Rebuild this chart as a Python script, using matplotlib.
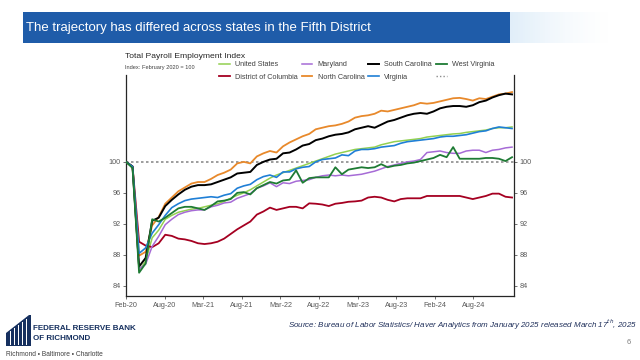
import matplotlib
matplotlib.use("Agg")
import matplotlib.pyplot as plt
from matplotlib.lines import Line2D
from matplotlib.patches import Rectangle, Polygon
import numpy as np

plt.rcParams['font.family'] = ['Liberation Sans', 'DejaVu Sans']

# monthly index, Feb 2020 .. Jan 2025 (Feb 2020 = 100)
united_states = [100, 99.3, 86.0, 87.2, 90.2, 91.2, 92.6, 93.1, 93.5, 93.7,
                 93.9, 94.0, 94.2, 94.4, 94.6, 94.9, 95.3, 95.7, 96.0, 96.4,
                 96.9, 97.4, 97.9, 98.3, 98.6, 98.9, 99.2, 99.5, 99.8, 100.1,
                 100.4, 100.7, 101.0, 101.2, 101.4, 101.6, 101.7, 101.8, 101.9, 102.2,
                 102.4, 102.6, 102.7, 102.8, 102.9, 103.0, 103.2, 103.3, 103.4, 103.5,
                 103.6, 103.65, 103.8, 103.9, 104.0, 104.1, 104.3, 104.4, 104.4, 104.5]
maryland = [100, 99.3, 86.2, 86.8, 89.1, 90.4, 91.9, 92.6, 93.2, 93.5,
            93.7, 93.8, 93.8, 94.2, 94.4, 94.7, 94.8, 95.3, 95.6, 95.9,
            96.6, 96.9, 97.3, 96.8, 97.3, 97.2, 97.5, 97.6, 97.7, 98.0,
            98.2, 98.3, 98.2, 98.3, 98.2, 98.3, 98.4, 98.6, 98.8, 99.1,
            99.4, 99.6, 99.8, 100.0, 100.1, 100.3, 101.2, 101.3, 101.4, 101.2,
            101.1, 101.1, 101.4, 101.5, 101.5, 101.2, 101.5, 101.6, 101.8, 101.9]
south_carolina = [100, 99.4, 86.5, 87.6, 92.4, 92.8, 94.3, 95.1, 95.8, 96.4,
                  96.8, 97.0, 97.0, 97.1, 97.4, 97.7, 98.0, 98.5, 98.6, 98.7,
                  99.6, 100.0, 100.3, 100.4, 101.1, 101.2, 101.6, 102.1, 102.3, 102.8,
                  103.0, 103.3, 103.5, 103.6, 103.8, 104.2, 104.4, 104.6, 104.4, 104.8,
                  105.2, 105.4, 105.7, 106.0, 106.2, 106.3, 106.2, 106.5, 106.9, 107.1,
                  107.2, 107.2, 107.1, 107.3, 107.7, 107.9, 108.3, 108.6, 108.8, 108.7]
west_virginia = [100, 99.2, 85.7, 86.9, 92.6, 92.3, 92.8, 93.4, 94.0, 94.2,
                 94.2, 94.0, 93.8, 94.3, 94.9, 95.0, 95.2, 96.0, 96.1, 95.8,
                 96.6, 97.0, 97.4, 97.2, 97.6, 97.7, 98.9, 97.3, 97.9, 98.0,
                 98.0, 98.0, 99.3, 98.4, 99.0, 99.15, 99.3, 99.2, 99.3, 99.7,
                 99.3, 99.5, 99.6, 99.8, 99.9, 100.1, 100.3, 100.5, 100.9, 100.6,
                 101.9, 100.4, 100.4, 100.4, 100.4, 100.5, 100.5, 100.4, 100.1, 100.6]
district_of_columbia = [100, 99.4, 89.7, 89.2, 89.0, 89.5, 90.6, 90.45, 90.1, 90.0,
                        89.8, 89.5, 89.4, 89.5, 89.7, 90.1, 90.7, 91.3, 91.8, 92.3,
                        93.2, 93.6, 94.1, 93.8, 94.0, 94.2, 94.2, 94.0, 94.65, 94.6,
                        94.5, 94.3, 94.6, 94.7, 94.85, 94.9, 95.0, 95.4, 95.5, 95.4,
                        95.1, 94.9, 95.2, 95.3, 95.3, 95.3, 95.6, 95.6, 95.6, 95.6,
                        95.6, 95.6, 95.4, 95.2, 95.4, 95.6, 95.9, 95.9, 95.5, 95.4]
north_carolina = [100, 99.4, 87.9, 88.4, 91.8, 92.9, 94.6, 95.4, 96.2, 96.7,
                  97.2, 97.4, 97.4, 97.8, 98.3, 98.6, 99.0, 99.8, 100.0, 99.8,
                  100.7, 101.1, 101.4, 101.2, 102.0, 102.5, 102.9, 103.3, 103.6, 104.2,
                  104.4, 104.6, 104.7, 104.9, 105.2, 105.7, 105.9, 106.0, 106.2, 106.6,
                  106.5, 106.7, 106.9, 107.1, 107.3, 107.6, 107.5, 107.6, 107.8, 108.0,
                  108.2, 108.25, 108.1, 107.9, 108.2, 108.1, 108.4, 108.7, 108.8, 109.0]
virginia = [100, 99.4, 88.2, 88.9, 90.8, 91.9, 93.1, 94.1, 94.6, 95.0,
            95.2, 95.3, 95.4, 95.5, 95.4, 95.7, 95.9, 96.6, 96.9, 97.1,
            97.7, 98.1, 98.3, 98.0, 98.7, 98.7, 99.1, 99.3, 99.4, 100.0,
            100.3, 100.4, 100.5, 100.9, 100.8, 101.4, 101.6, 101.6, 101.7, 101.9,
            102.0, 102.1, 102.4, 102.6, 102.7, 102.8, 102.9, 103.0, 103.2, 103.3,
            103.3, 103.4, 103.5, 103.7, 103.9, 104.0, 104.3, 104.5, 104.4, 104.3]

tick_labels = ['Feb-20', 'Aug-20', 'Mar-21', 'Aug-21', 'Mar-22', 'Aug-22',
               'Mar-23', 'Aug-23', 'Feb-24', 'Aug-24']
y_ticks = [84, 88, 92, 96, 100]

series = [
    ('United States', united_states, '#92D050', 1.1),
    ('District of Columbia', district_of_columbia, '#A50021', 1.3),
    ('Maryland', maryland, '#A66BD6', 1.1),
    ('North Carolina', north_carolina, '#E8892B', 1.3),
    ('South Carolina', south_carolina, '#000000', 1.4),
    ('Virginia', virginia, '#1F7FD6', 1.2),
    ('West Virginia', west_virginia, '#1E7B34', 1.3),
]

W, H = 640, 360
fig = plt.figure(figsize=(6.4, 3.6), dpi=100)
fig.patch.set_facecolor('white')

def fx(px):
    return px / W

def fy(py):
    return 1 - py / H

# title banner
fig.patches.append(Rectangle((fx(23), fy(43)), fx(510) - fx(23), fy(12) - fy(43),
                             transform=fig.transFigure, facecolor='#1F5CA9',
                             edgecolor='none', zorder=1))
for k in range(40):
    x0 = 510 + k * 2.5
    a = 0.3 * (1 - k / 40.0) ** 1.5
    fig.patches.append(Rectangle((fx(x0), fy(43)), fx(2.6), fy(12) - fy(43),
                                 transform=fig.transFigure, facecolor='#9CC8EC',
                                 alpha=a, edgecolor='none', zorder=1))
fig.text(fx(26), fy(28), 'The trajectory has differed across states in the Fifth District',
         color='white', fontsize=9.5, va='center', ha='left', zorder=2)

# chart
ax = fig.add_axes([fx(126), fy(296), fx(514) - fx(126), fy(75) - fy(296)])
x = np.arange(len(united_states))
for name, vals, col, lw in series:
    ax.plot(x, vals, color=col, lw=lw, label=name, zorder=3)
ax.axhline(100, color='#8C8C8C', lw=1.2, ls=(0, (1.5, 1.5)), zorder=2)

ax.set_xlim(0, 59.3)
ax.set_ylim(82.7, 111.2)
ax.set_xticks(np.arange(len(tick_labels)) * 5.9)
ax.set_xticklabels(tick_labels)
ax.set_yticks(y_ticks)
ax.spines['top'].set_visible(False)
for s in ['left', 'right', 'bottom']:
    ax.spines[s].set_color('#262626')
    ax.spines[s].set_linewidth(0.9)
ax.tick_params(axis='both', labelsize=5.2, colors='#595959', length=2, width=0.6, pad=2)
ax.tick_params(axis='y', right=True, labelright=True)

fig.text(fx(125), fy(57), 'Total Payroll Employment Index', fontsize=6.1,
         color='#262626', va='center', ha='left')
fig.text(fx(125), fy(68), 'Index: February 2020 = 100', fontsize=4.1,
         color='#404040', va='center', ha='left')

handles, labels = ax.get_legend_handles_labels()
handles.append(Line2D([], [], color='#8C8C8C', lw=1.0, ls=(0, (1, 1.5))))
labels.append('')
leg = fig.legend(handles, labels, ncol=4, loc='upper left',
                 bbox_to_anchor=(fx(219), fy(61)), frameon=False, fontsize=5.2,
                 handlelength=1.5, handletextpad=0.7, columnspacing=0.55,
                 labelspacing=0.75, borderpad=0, borderaxespad=0)
for t in leg.get_texts():
    t.set_color('#404040')

# footer
fig.text(fx(637), fy(325), 'Source: Bureau of Labor Statistics/ Haver Analytics from January 2025 released March 17$^{th}$, 2025',
         fontsize=5.8, style='italic', color='#1F2F5A', ha='right', va='center')
fig.text(fx(629), fy(343), '6', fontsize=5.5, color='#7F7F7F', ha='center', va='center')

navy = '#16305F'
fig.patches.append(Polygon([(fx(6), fy(346)), (fx(6), fy(333)), (fx(29), fy(315)),
                            (fx(31), fy(315)), (fx(31), fy(346))], closed=True,
                           transform=fig.transFigure, facecolor=navy, edgecolor='none'))
for k in range(5):
    xc = 10 + k * 4
    fig.patches.append(Rectangle((fx(xc), fy(345)), fx(1.2), fy(331 - k * 3) - fy(345),
                                 transform=fig.transFigure, facecolor='white',
                                 edgecolor='none'))
fig.text(fx(33), fy(328), 'FEDERAL RESERVE BANK', fontsize=5.8, weight='bold',
         color=navy, ha='left', va='center')
fig.text(fx(33), fy(339), 'OF RICHMOND', fontsize=5.8, weight='bold',
         color=navy, ha='left', va='center')
fig.text(fx(6), fy(354), 'Richmond \u2022 Baltimore \u2022 Charlotte', fontsize=4.8,
         color='#404040', ha='left', va='center')

fig.savefig('out.png', dpi=100)
